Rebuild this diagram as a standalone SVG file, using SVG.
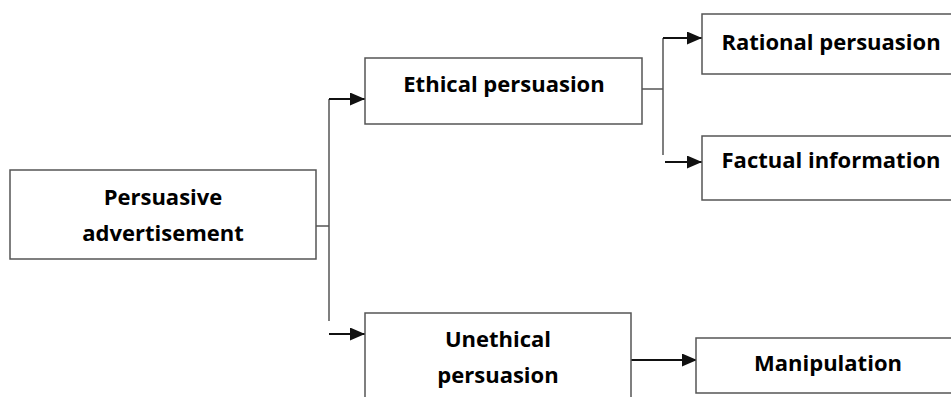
<svg xmlns="http://www.w3.org/2000/svg" width="951" height="397" viewBox="0 0 951 397">
<style>
.box{fill:#fff;stroke:#555;stroke-width:1.5}
.t{font-family:"Open Sans","Noto Sans",sans-serif;font-weight:bold;font-size:22px;fill:#000;text-anchor:middle}
.ln{fill:none;stroke:#555;stroke-width:1.5}
.ar{fill:none;stroke:#111;stroke-width:2}
</style>
<defs>
<marker id="ah" markerUnits="userSpaceOnUse" markerWidth="15" markerHeight="13" refX="15" refY="6.5" orient="auto">
<path d="M0,0 L15,6.5 L0,13 z" fill="#111"/>
</marker>
</defs>
<rect width="951" height="397" fill="#fff"/>
<g id="connectors">
<path class="ln" d="M316,226 H329 M329,99 V321"/>
<path class="ar" d="M329,99 H365" marker-end="url(#ah)"/>
<path class="ar" d="M329,334 H365" marker-end="url(#ah)"/>
<path class="ln" d="M642,89 H663 M663,38 V155"/>
<path class="ar" d="M663,38 H702" marker-end="url(#ah)"/>
<path class="ar" d="M665,162 H702" marker-end="url(#ah)"/>
<path class="ar" d="M631,360 H697" marker-end="url(#ah)"/>
</g>
<g id="persuasive">
<rect class="box" x="10" y="170" width="306" height="89"/>
<text class="t" x="163" y="205">Persuasive</text>
<text class="t" x="163" y="241">advertisement</text>
</g>
<g id="ethical">
<rect class="box" x="365" y="58" width="277" height="66"/>
<text class="t" x="504" y="92">Ethical persuasion</text>
</g>
<g id="unethical">
<rect class="box" x="365" y="313" width="266" height="100"/>
<text class="t" x="498" y="347">Unethical</text>
<text class="t" x="498" y="383">persuasion</text>
</g>
<g id="rational">
<rect class="box" x="702" y="14" width="258" height="60"/>
<text class="t" x="831" y="50">Rational persuasion</text>
</g>
<g id="factual">
<rect class="box" x="702" y="136" width="258" height="64"/>
<text class="t" x="831" y="168">Factual information</text>
</g>
<g id="manipulation">
<rect class="box" x="696" y="338" width="264" height="55"/>
<text class="t" x="828" y="371">Manipulation</text>
</g>
</svg>
